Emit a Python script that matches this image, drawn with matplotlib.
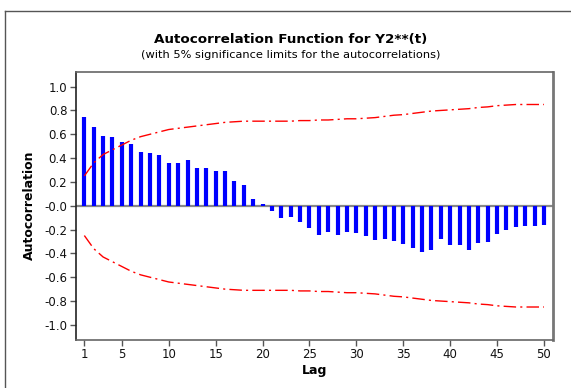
import matplotlib
matplotlib.use("Agg")
import matplotlib.pyplot as plt
from matplotlib.lines import Line2D
import numpy as np

# sample autocorrelations for lags 1..50
lags = np.arange(1, 51)
acf = [0.743, 0.665, 0.589, 0.581, 0.539, 0.522, 0.450, 0.442, 0.430, 0.358,
       0.358, 0.388, 0.321, 0.313, 0.291, 0.291, 0.207, 0.170, 0.058, 0.018,
       -0.045, -0.100, -0.093, -0.134, -0.184, -0.243, -0.221, -0.243, -0.221, -0.229,
       -0.251, -0.288, -0.279, -0.296, -0.318, -0.355, -0.385, -0.374, -0.279, -0.329,
       -0.329, -0.371, -0.310, -0.304, -0.235, -0.205, -0.179, -0.168, -0.168, -0.159]

# 5% significance limit (upper); the lower one is its mirror
limit = [0.25, 0.36, 0.43, 0.47, 0.51, 0.55, 0.58, 0.60, 0.62, 0.64,
         0.65, 0.66, 0.67, 0.68, 0.69, 0.70, 0.705, 0.71, 0.71, 0.71,
         0.71, 0.71, 0.71, 0.715, 0.715, 0.72, 0.72, 0.725, 0.73, 0.73,
         0.735, 0.74, 0.75, 0.76, 0.765, 0.775, 0.785, 0.795, 0.80, 0.805,
         0.81, 0.815, 0.825, 0.83, 0.84, 0.845, 0.85, 0.85, 0.85, 0.85]

xticks = [1, 5, 10, 15, 20, 25, 30, 35, 40, 45, 50]
yticks = np.arange(-1.0, 1.01, 0.2)

plt.rcParams['font.family'] = ['DejaVu Sans']

W, H = 571, 388
fig = plt.figure(figsize=(W / 100, H / 100), dpi=100)
fig.patch.set_facecolor('white')

# outer graph frame: only its left and top edges fall inside the picture
fx, fy = 4.5 / W, 1 - 10.5 / H
fig.lines.append(Line2D([fx, fx], [0, fy], transform=fig.transFigure, color='#555555', lw=1.0))
fig.lines.append(Line2D([fx, 1], [fy, fy], transform=fig.transFigure, color='#555555', lw=1.0))

ax = fig.add_axes([75.7 / W, 1 - 340 / H, (552.7 - 75.7) / W, (340 - 71.5) / H])

ax.axhline(0, color='#888888', lw=1.6, zorder=1)
ax.vlines(lags, 0, acf, color='#0000ff', lw=3.0, zorder=2)

up = np.array(limit)
ax.plot(lags, up, color='red', lw=1.0, ls=(0, (9, 3, 1.5, 3)), zorder=3)
ax.plot(lags, -up, color='red', lw=1.0, ls=(0, (9, 3, 1.5, 3)), zorder=3)

ax.set_xlim(0.08, 50.93)
ax.set_ylim(-1.127, 1.127)
ax.set_xticks(xticks)
ax.set_yticks(yticks)
ax.set_yticklabels([f"{v:.1f}" for v in yticks])
ax.tick_params(direction='out', length=4, width=1, color='#555555',
               labelsize=8.5, labelcolor='#111111', pad=2)

for s in ax.spines.values():
    s.set_color('#666666')
    s.set_linewidth(1.2)
ax.spines['left'].set_color('#222222')
ax.spines['right'].set_linewidth(2.0)
ax.spines['right'].set_color('#777777')

ax.set_xlabel('Lag', fontsize=9, fontweight='bold', labelpad=2)
ax.set_ylabel('Autocorrelation', fontsize=9, fontweight='bold', labelpad=6)

fig.text(290.5 / W, 1 - 39 / H, 'Autocorrelation Function for Y2**(t)',
         ha='center', va='center', fontsize=9.7, fontweight='bold')
fig.text(291 / W, 1 - 55 / H, '(with 5% significance limits for the autocorrelations)',
         ha='center', va='center', fontsize=8.2)

fig.savefig('out.png', dpi=100)
